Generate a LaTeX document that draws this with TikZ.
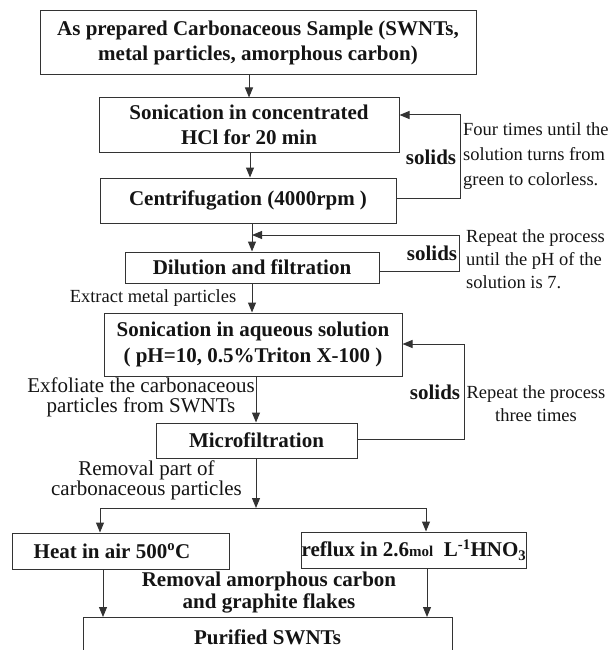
\documentclass[tikz,border=0pt]{standalone}
\usepackage{fontspec}
\setmainfont{Liberation Serif}
\usetikzlibrary{arrows.meta}
\begin{document}
\begin{tikzpicture}[x=1pt,y=-1pt,
  box/.style={draw=black!80, line width=1pt, inner sep=0pt, align=center,
    font=\bfseries\fontsize{21}{25}\selectfont, text=black!92},
  arr/.style={draw=black!80, line width=1pt, -{Triangle[length=10pt,width=8pt]}},
  ln/.style={draw=black!80, line width=1pt},
  boldtxt/.style={inner sep=0pt, align=center, text=black!92,
    font=\bfseries\fontsize{21}{25}\selectfont},
  note/.style={inner sep=0pt, align=left, text=black!92,
    font=\fontsize{18.5}{25}\selectfont}]
\useasboundingbox (0,0) rectangle (610,650);
\clip (0,0) rectangle (610,650);

% boxes
\node[box, minimum width=436pt, minimum height=64pt] (top) at (258,43)
  {As prepared Carbonaceous Sample (SWNTs,\\metal particles, amorphous carbon)};
\node[box, minimum width=300pt, minimum height=54pt] (soni1) at (249,125)
  {Sonication in concentrated\\HCl for 20 min};
\node[box, minimum width=296pt, minimum height=45pt] (centri) at (248,200.5)
  {Centrifugation (4000rpm )};
\node[box, minimum width=254pt, minimum height=31pt] (dil) at (252,267.5)
  {Dilution and filtration};
\node[box, minimum width=298pt, minimum height=63pt, font=\bfseries\fontsize{21}{26}\selectfont] (soni2) at (253,344.5)
  {Sonication in aqueous solution\\( pH=10, 0.5\%Triton X-100 )};
\node[box, minimum width=201pt, minimum height=35pt] (micro) at (256.5,440.5)
  {Microfiltration};
\node[box, minimum width=217pt, minimum height=36pt] (heat) at (120.5,551)
  {\hspace*{-17pt}Heat in air 500\textsuperscript{o}C};
\node[box, minimum width=224pt, minimum height=36pt] (reflux) at (414,550)
  {reflux in 2.6{\fontsize{15}{15}\selectfont mol}\ \ L\textsuperscript{-1}HNO\textsubscript{3}};
\node[box, anchor=north, minimum width=369pt, minimum height=40pt] (pur) at (267.5,617)
  {Purified SWNTs};

% main flow
\draw[arr] ([xshift=-9pt]top.south) -- ([xshift=-9pt]top.south |- soni1.north);
\draw[arr] ([xshift=1pt]soni1.south) -- ([xshift=1pt]soni1.south |- centri.north);
\draw[arr] ([xshift=4pt]centri.south) -- ([xshift=4pt]centri.south |- dil.north);
\draw[arr] (dil.south) -- (dil.south |- soni2.north);
\draw[arr] ([xshift=3pt]soni2.south) -- ([xshift=3pt]soni2.south |- micro.north);

\coordinate (split) at (256,508);
\coordinate (sl) at (100,508);
\coordinate (sr) at (426,508);
\draw[arr] ([xshift=-0.5pt]micro.south) -- (split);
\draw[ln] (sl) -- (sr);
\draw[arr] (sl) -- (sl |- heat.north);
\draw[arr] (sr) -- (sr |- reflux.north);
\draw[arr] ([xshift=-17.5pt]heat.south) -- ([xshift=-17.5pt]heat.south |- pur.north);
\draw[arr] ([xshift=13pt]reflux.south) -- ([xshift=13pt]reflux.south |- pur.north);

% feedback loops
\coordinate (f1b) at (460,198);
\coordinate (f1t) at (460,115);
\draw[arr] (centri.east |- f1b) -- (f1b) -- (f1t) -- (soni1.east |- f1t);
\coordinate (f2b) at (459,271);
\coordinate (f2t) at (459,235);
\draw[arr] (dil.east |- f2b) -- (f2b) -- (f2t) -- (dil.north |- f2t);
\coordinate (f3b) at (464,439);
\coordinate (f3t) at (464,344);
\draw[arr] (micro.east |- f3b) -- (f3b) -- (f3t) -- (soni2.east |- f3t);

% labels
\node[boldtxt] (s1) at (431,157) {solids};
\node[note, anchor=west] (n1) at (463,156)
  {Four times until the\\solution turns from\\green to colorless.};
\node[boldtxt] (s2) at (432,253) {solids};
\node[note, anchor=west, font=\fontsize{18.5}{23}\selectfont] (n2) at (466,259)
  {Repeat the process\\until the pH of the\\solution is 7.};
\node[note] (ext) at (153,298) {Extract metal particles};
\node[boldtxt] (s3) at (435,392) {solids};
\node[note, align=center, font=\fontsize{18.5}{23}\selectfont] (n3) at (536,403.5)
  {Repeat the process\\three times};
\node[inner sep=0pt, align=center, text=black!92,
  font={\fontsize{21}{20}\selectfont\lineskiplimit=-20pt}] (exf) at (141,397)
  {Exfoliate the carbonaceous\\particles from SWNTs};
\node[inner sep=0pt, align=center, text=black!92,
  font={\fontsize{21}{20}\selectfont\lineskiplimit=-20pt}] (rem1) at (146.5,480)
  {Removal part of\\carbonaceous particles};
\node[boldtxt, font={\bfseries\fontsize{21}{22}\selectfont\lineskiplimit=-20pt}] (rem2) at (269,593)
  {Removal amorphous carbon\\and graphite flakes};
\end{tikzpicture}
\end{document}
